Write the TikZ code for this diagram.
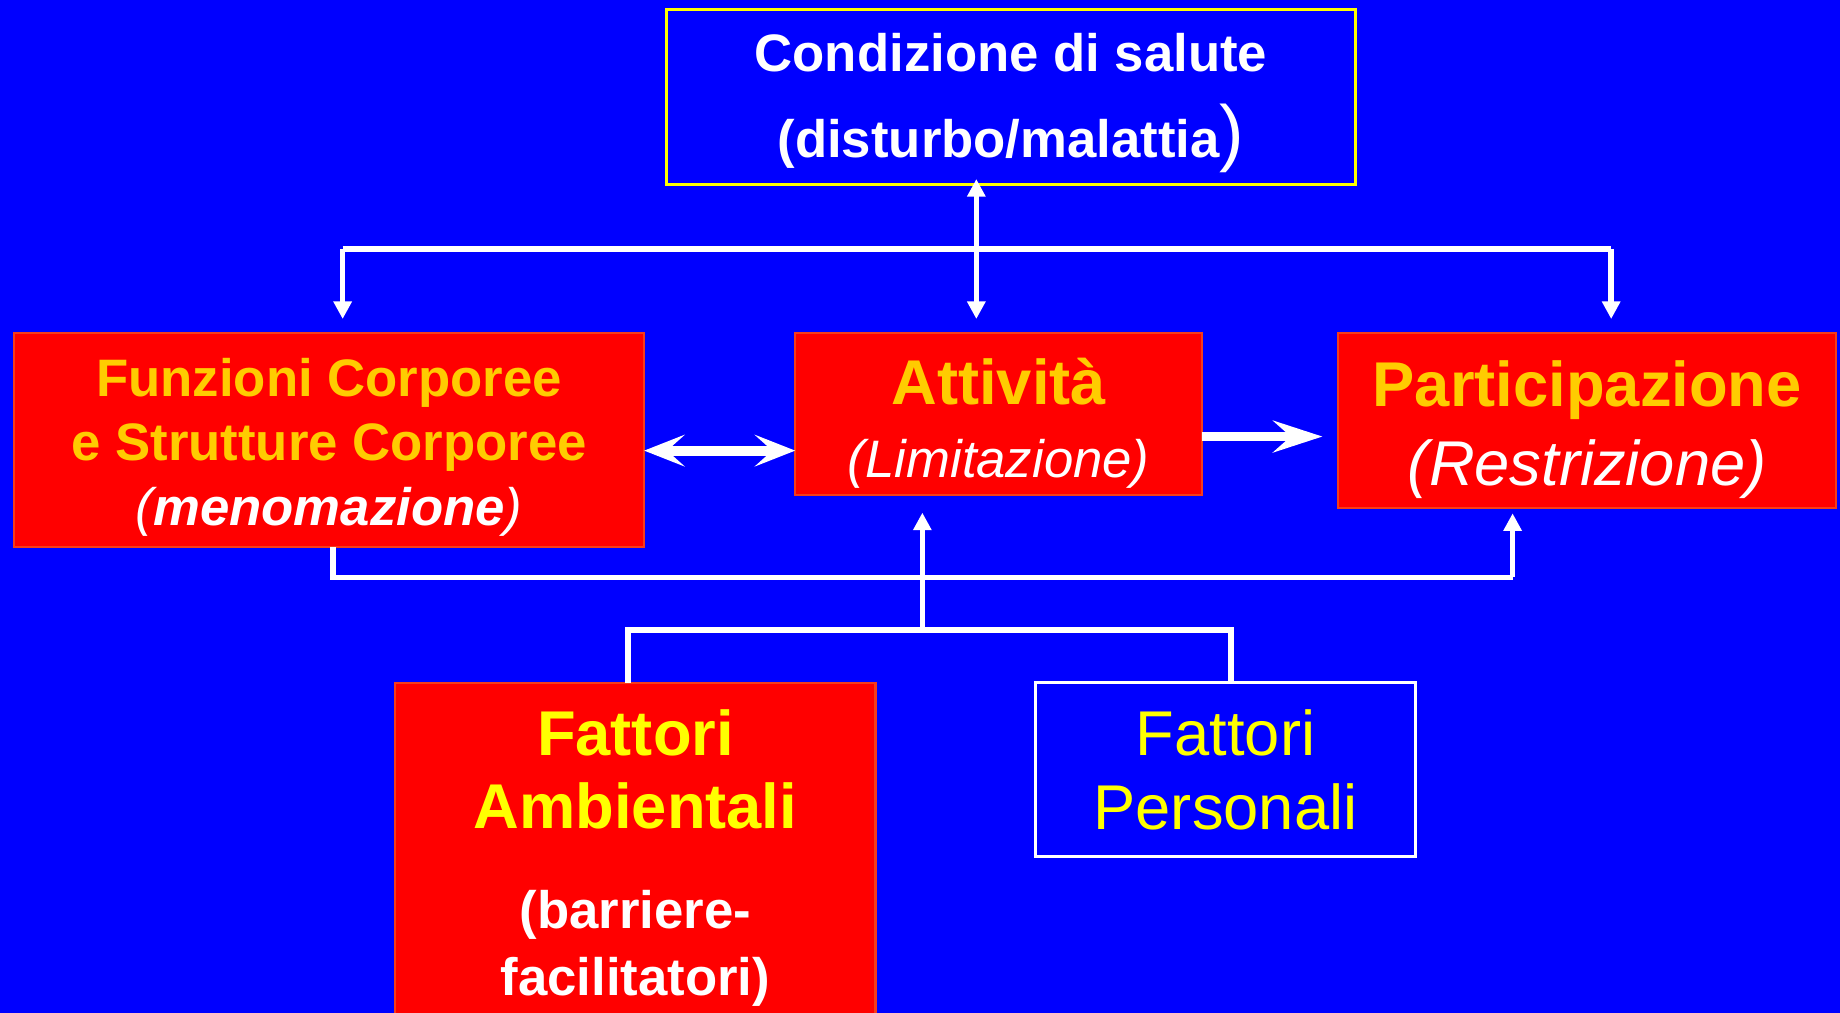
\documentclass[tikz,border=0pt]{standalone}
\usepackage{fontspec}
\setmainfont{Liberation Sans}
\usetikzlibrary{arrows.meta,positioning}

\definecolor{bgblue}{RGB}{0,0,255}
\definecolor{boxred}{RGB}{255,0,0}
\definecolor{redline}{RGB}{245,60,25}
\definecolor{goldtext}{RGB}{255,204,0}
\definecolor{lemon}{RGB}{255,255,0}

\begin{document}
\begin{tikzpicture}[x=0.011735cm, y=-0.011735cm,
  redbox/.style={draw=redline, line width=0.6pt, fill=boxred, inner sep=0pt, outer sep=0pt, align=center},
  bluebox/.style={line width=0.8pt, fill=bgblue, inner sep=0pt, outer sep=0pt, align=center},
  link/.style={draw=white, line width=1.6pt},
  thin arrow/.style={link, -{Triangle[length=5pt,width=5pt]}},
  fat arrow/.style={draw=white, line width=2.8pt, -{Stealth[length=14pt,width=9pt,inset=5pt]}},
  fat both/.style={draw=white, line width=2.8pt, {Stealth[length=11.5pt,width=9pt,inset=5pt]}-{Stealth[length=11.5pt,width=9pt,inset=5pt]}}
]
\useasboundingbox (0,0) rectangle (1568,863);
\fill[bgblue] (0,0) rectangle (1568,863);

% boxes
\node[bluebox, draw=lemon, minimum width=6.89cm, minimum height=1.75cm, text=white, font=\bfseries\fontsize{15}{24.4}\selectfont] (health) at (861.5,82.5) {\rule{0pt}{14.4pt}Condizione di salute\\(disturbo/malattia{\mdseries\fontsize{21}{24}\selectfont)}};
\node[redbox, minimum width=6.30cm, minimum height=2.14cm, text=goldtext, font=\bfseries\fontsize{15}{18.4}\selectfont] (body) at (280.5,375) {\rule{0pt}{15pt}Funzioni Corporee\\e Strutture Corporee\\{\color{white}\itshape\mdseries(\bfseries menomazione\mdseries)}};
\node[redbox, below right=0cm and 1.51cm of body.north east, minimum width=4.07cm, minimum height=1.62cm, text=goldtext, font=\bfseries\fontsize{18}{20.7}\selectfont] (activity) {\rule{0pt}{18.5pt}Attività\\{\color{white}\mdseries\itshape\fontsize{15}{18}\selectfont (Limitazione)}};
\node[redbox, below right=0cm and 1.36cm of activity.north east, minimum width=4.98cm, minimum height=1.75cm, text=goldtext, font=\bfseries\fontsize{18}{22.4}\selectfont] (participation) {\rule{0pt}{18.3pt}Participazione\\{\color{white}\mdseries\itshape (Restrizione)}};
\node[redbox, minimum width=4.80cm, minimum height=3.50cm, text width=4.8cm, font=\bfseries] (environment) at (541.5,731) {{\color{lemon}\fontsize{18}{21}\selectfont Fattori\\Ambientali\par}\vspace{9.4pt}{\color{white}\fontsize{15}{19}\selectfont (barriere-\\facilitatori)\par}};
\node[bluebox, draw=white, below right=0cm and 1.60cm of environment.north east, minimum width=3.80cm, minimum height=1.74cm, text=lemon, font=\fontsize{18}{21}\selectfont] (personal) {Fattori\\Personali};

% upper bracket
\coordinate (topL) at (292,212);
\coordinate (topR) at (1373,212);
\coordinate (topM) at (832,212);
\draw[link] (topL) -- (topR);
\draw[thin arrow, shorten >=4pt] (topL) -- (topL |- body.north);
\draw[thin arrow, shorten >=4pt] (topR) -- (topR |- participation.north);
\draw[link, {Triangle[length=5pt,width=5pt]}-{Triangle[length=5pt,width=5pt]}, shorten <=-1.5pt, shorten >=4pt] (topM |- health.south) -- (topM |- activity.north);

% side arrows
\coordinate (midA) at (0,384);
\coordinate (midB) at (0,372);
\draw[fat both] (body.east |- midA) -- (activity.west |- midA);
\draw[fat arrow, shorten >=4.5pt] (activity.east |- midB) -- (participation.west |- midB);

% lower bracket
\coordinate (lowL) at (284,492);
\coordinate (lowR) at (1289,492);
\draw[link] (lowL |- body.south) -- (lowL) -- (lowR);
\draw[thin arrow, shorten >=1.5pt] (lowR) -- (lowR |- participation.south);
\coordinate (baseM) at (786,537);
\draw[thin arrow, shorten >=5pt] (baseM) -- (baseM |- activity.south);
\coordinate (baseL) at (535,537);
\coordinate (baseR) at (1049,537);
\draw[link] (baseL |- environment.north) -- (baseL) -- (baseR) -- (baseR |- personal.north);
\end{tikzpicture}
\end{document}
